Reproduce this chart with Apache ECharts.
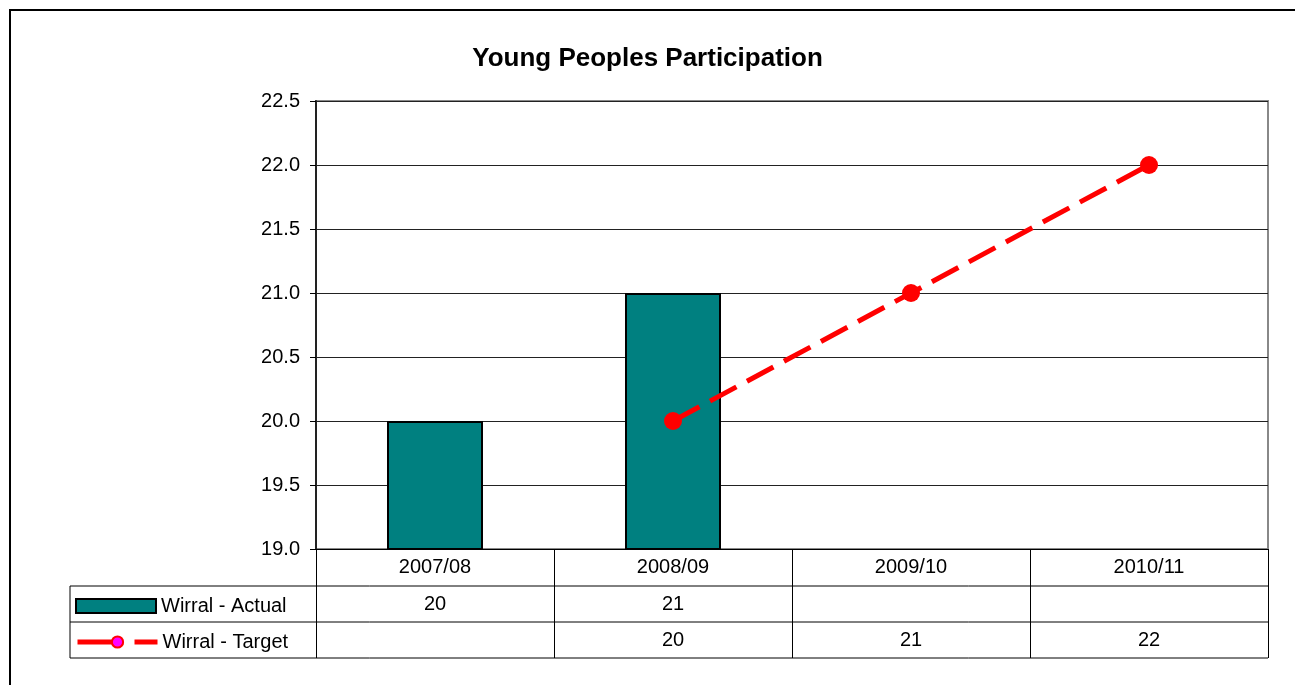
<!DOCTYPE html>
<html>
<head>
<meta charset="utf-8">
<script src="https://cdn.jsdelivr.net/npm/echarts@6/dist/echarts.min.js"></script>
<style>
  html, body { margin: 0; padding: 0; background: #fff; }
  #chart { width: 1295px; height: 685px; }
</style>
</head>
<body>
<div id="chart"></div>
<script>
  // chart data
  const categories = ['2007/08', '2008/09', '2009/10', '2010/11'];
  const actual = [20, 21, null, null];
  const target = [null, 20, 21, 22];
  const yTicks = { min: 19, max: 22.5, interval: 0.5 };

  const font = 'Liberation Sans, Arial, sans-serif';
  const myChart = echarts.init(document.getElementById('chart'));

  // table rows under the axis, labels come from the data arrays
  const rowAxis = (values, offset) => ({
    type: 'category',
    data: categories,
    position: 'bottom',
    offset,
    axisLine: { show: false },
    axisTick: { show: false },
    axisLabel: {
      color: '#000',
      fontFamily: font,
      fontSize: 20,
      margin: 8,
      formatter: (v, i) => (values[i] == null ? '' : String(values[i])),
    },
  });

  const legendText = { fontFamily: font, fontSize: 20, color: '#000' };

  const options = {
    animation: false,
    title: {
      text: 'Young Peoples Participation',
      left: 'center',
      top: 41,
      textStyle: { fontFamily: font, fontSize: 26, fontWeight: 'bold', color: '#000' },
    },
    grid: {
      left: 316, right: 27, top: 101, bottom: 136,
      show: true, borderColor: '#888', borderWidth: 2,
    },
    legend: [
      {
        data: [{ name: 'Wirral - Actual', icon: 'rect' }],
        left: 70, top: 591,
        itemWidth: 80, itemHeight: 14, itemGap: 0,
        textStyle: legendText,
      },
      {
        data: [{
          name: 'Wirral - Target',
          itemStyle: { color: '#ff00ff', borderColor: '#ff0000', borderWidth: 2 },
          lineStyle: { color: '#ff0000', width: 5, type: [46, 11, 23, 10] },
        }],
        left: 70, top: 627,
        itemWidth: 80, itemHeight: 14, itemGap: 0,
        textStyle: legendText,
      },
    ],
    xAxis: [
      {
        type: 'category',
        data: categories,
        axisLine: { lineStyle: { color: '#000', width: 1 } },
        axisTick: { show: true, length: 109, lineStyle: { color: '#000', width: 1 } },
        axisLabel: { color: '#000', fontFamily: font, fontSize: 20, margin: 8 },
        splitLine: { show: false },
      },
      rowAxis(actual, 37),
      rowAxis(target, 73),
    ],
    yAxis: {
      type: 'value',
      min: yTicks.min,
      max: yTicks.max,
      interval: yTicks.interval,
      axisLine: { show: true, lineStyle: { color: '#222', width: 2 } },
      axisTick: { show: true, length: 6, lineStyle: { color: '#000' } },
      axisLabel: {
        color: '#000', fontFamily: font, fontSize: 20, margin: 16,
        formatter: (v) => v.toFixed(1),
      },
      splitLine: { lineStyle: { color: '#222', width: 1 } },
    },
    series: [
      {
        name: 'Wirral - Actual',
        type: 'bar',
        data: actual,
        barWidth: 96,
        itemStyle: { color: '#008080', borderColor: '#000', borderWidth: 2 },
      },
      {
        name: 'Wirral - Target',
        type: 'line',
        data: target,
        symbol: 'circle',
        symbolSize: 18,
        itemStyle: { color: '#ff0000' },
        lineStyle: { color: '#ff0000', width: 5, type: [30, 12] },
      },
    ],
    graphic: [
      // outer chart frame
      { type: 'rect', shape: { x: 10, y: 10, width: 1300, height: 700 }, style: { fill: 'none', stroke: '#000', lineWidth: 2 }, silent: true },
      // data table lines
      { type: 'line', shape: { x1: 70, y1: 586, x2: 1268, y2: 586 }, style: { stroke: '#000', lineWidth: 1 } },
      { type: 'line', shape: { x1: 70, y1: 622, x2: 1268, y2: 622 }, style: { stroke: '#000', lineWidth: 1 } },
      { type: 'line', shape: { x1: 70, y1: 658, x2: 1268, y2: 658 }, style: { stroke: '#000', lineWidth: 1 } },
      { type: 'line', shape: { x1: 70, y1: 586, x2: 70, y2: 658 }, style: { stroke: '#000', lineWidth: 1 } },
    ],
  };

  myChart.setOption(options);
</script>
</body>
</html>
